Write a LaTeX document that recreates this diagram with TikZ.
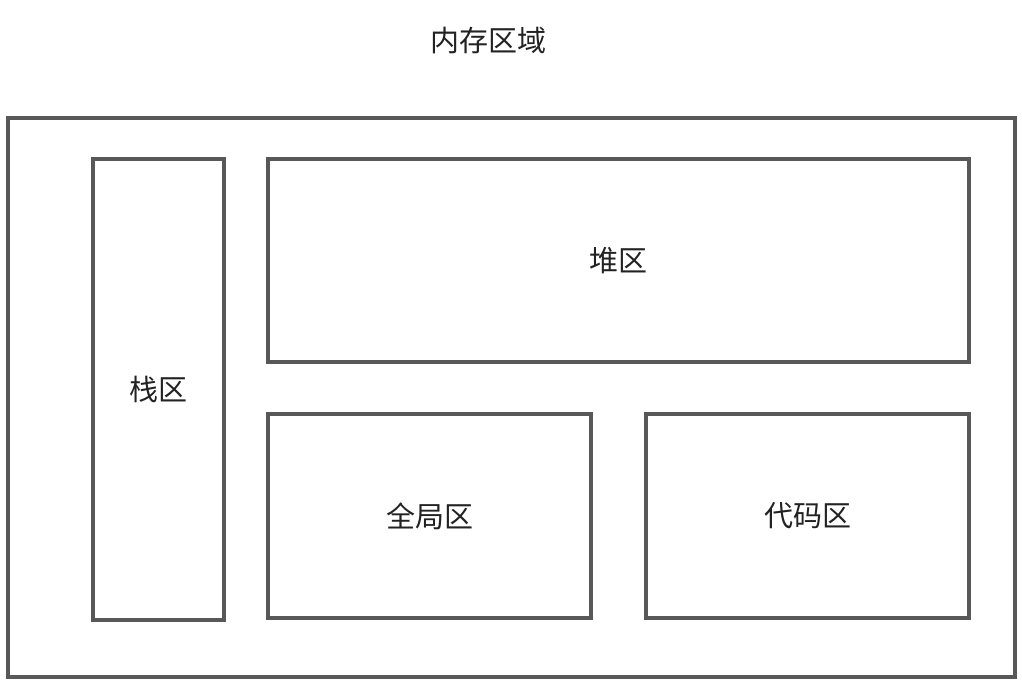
\documentclass[tikz,border=0pt]{standalone}
\usepackage{fontspec}
\setmainfont{Noto Sans CJK SC}
\usetikzlibrary{positioning}
\definecolor{MemLine}{HTML}{585858}
\definecolor{MemInk}{HTML}{222222}
\tikzset{
  every node/.style={font=\fontsize{16.5}{20}\selectfont, text=MemInk},
  area/.style={draw=MemLine, line width=2.3pt, inner sep=0pt, outer sep=0pt},
}

\begin{document}
\begin{tikzpicture}[x=1cm,y=1cm]
  \useasboundingbox (0,0) rectangle (20.44,-13.64);

  % Title above the memory block
  \node (title) at (9.76,-0.82) {内存区域};

  % Outer memory block
  \node[area, minimum width=20.14cm, minimum height=11.18cm] (memory) at (10.23,-7.95) {};

  % Regions inside
  \node[area, minimum width=2.62cm, minimum height=9.22cm] (stack) at (3.17,-7.79) {栈区};
  \node[area, minimum width=14.02cm, minimum height=4.06cm] (heap) at (12.37,-5.21) {堆区};
  \node[area, minimum width=6.46cm, minimum height=4.08cm] (global) at (8.59,-10.32) {全局区};
  \node[area, minimum width=6.46cm, minimum height=4.08cm] (code) at (16.15,-10.32) {代码区};
\end{tikzpicture}
\end{document}
